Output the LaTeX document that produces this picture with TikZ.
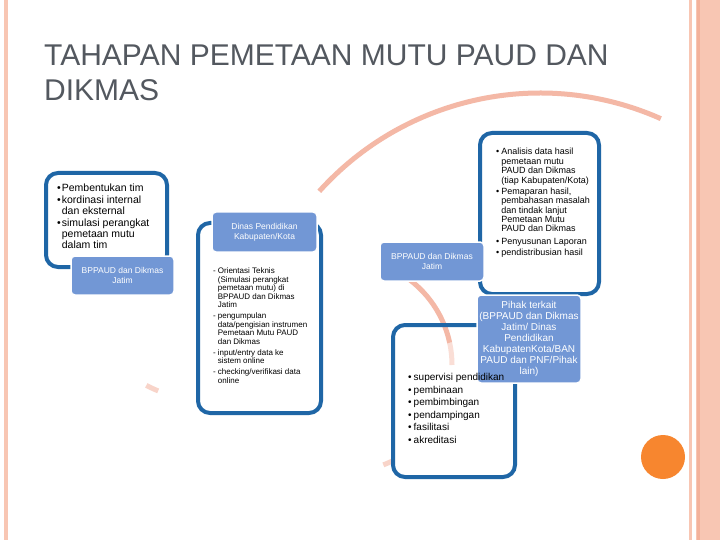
\documentclass[tikz,border=0pt]{standalone}
\usepackage{fontspec}
\setmainfont{Liberation Sans}
\usetikzlibrary{positioning}
\definecolor{tblue}{HTML}{1F66A6}
\definecolor{tlabel}{HTML}{7297D5}
\definecolor{tpink}{HTML}{F8C6B3}
\definecolor{tpinkdark}{HTML}{F3B29B}
\definecolor{tarc}{HTML}{F4B8A6}
\definecolor{torange}{HTML}{F7862F}
\definecolor{ttitle}{HTML}{53585F}
\tikzset{
  obox/.style={draw=tblue, line width=4pt, rounded corners=12pt, inner sep=0pt},
  lbox/.style={draw=white, line width=1.5pt, fill=tlabel, rounded corners=4pt,
               text=white, align=center, inner sep=0pt},
  btext/.style={anchor=base west, inner sep=0pt},
  parc/.style={draw=tarc, line width=5pt},
}

\begin{document}
\begin{tikzpicture}[x=1pt, y=-1pt]
  \useasboundingbox (0,0) rectangle (720,540);
  \fill[white] (0,0) rectangle (720,540);
  % side strips
  \fill[tpink] (4,0) rectangle (8,540);
  \fill[tpink] (688.5,0) rectangle (691.5,540);
  \fill[tpink] (696,0) rectangle (720,540);
  \fill[tpinkdark] (697,0) rectangle (700,540);
  \fill[torange] (663,457) circle (22);
  % arcs in the back
  \draw[parc] ([shift={(-138:297)}]540,390) arc[start angle=-138, end angle=-66, radius=297];
  \draw[parc] ([shift={(-62:107)}]345,365) arc[start angle=-62, end angle=-12, radius=107];
  \draw[parc, opacity=.45] ([shift={(-12:107)}]345,365) arc[start angle=-12, end angle=0, radius=107];
  \draw[parc, opacity=.6] ([shift={(63:107)}]345,365) arc[start angle=63, end angle=69, radius=107];
  \draw[parc, opacity=.6] ([shift={(112:125)}]205,275) arc[start angle=112, end angle=118, radius=125];

  \node[btext, text=ttitle, font=\fontsize{30}{35}\selectfont] (title) at (44,66)
    {\begin{tabular}[t]{@{}l@{}}TAHAPAN PEMETAAN MUTU PAUD DAN\\DIKMAS\end{tabular}};

  \node[obox, minimum width=121pt, minimum height=94pt] (o1) at (106.5,220) {};
  \node[obox, minimum width=123pt, minimum height=190pt] (o2) at (259.5,318) {};
  \node[obox, minimum width=119pt, minimum height=161pt] (o3) at (539.5,213.5) {};
  \node[obox, minimum width=122pt, minimum height=152pt] (o4) at (454,401) {};

  \node[lbox, minimum width=103pt, minimum height=39pt, font=\fontsize{8.5}{10}\selectfont] (l1) at (122.5,275.5)
    {BPPAUD dan Dikmas\\Jatim};
  \node[lbox, minimum width=105pt, minimum height=40pt, font=\fontsize{8.5}{10}\selectfont] (l2) at (264.5,232)
    {Dinas Pendidikan\\Kabupaten/Kota};
  \node[lbox, minimum width=104pt, minimum height=39pt, font=\fontsize{8.5}{10}\selectfont] (l3) at (432,261.5)
    {BPPAUD dan Dikmas\\Jatim};
  \node[lbox, minimum width=104pt, minimum height=88pt, font=\fontsize{10}{11}\selectfont] (l4) at (529,339)
    {Pihak terkait\\(BPPAUD dan Dikmas\\Jatim/ Dinas\\Pendidikan\\KabupatenKota/BAN\\PAUD dan PNF/Pihak\\lain)};

  \node[btext, font=\fontsize{10.5}{11}\selectfont] (t1) at (57,191.5)
    {\begin{tabular}[t]{@{}l@{\hspace{1pt}}l@{}}
      •&Pembentukan tim\\[1.5pt]
      •&kordinasi internal\\
      &dan eksternal\\[1pt]
      •&simulasi perangkat\\
      &pemetaan mutu\\
      &dalam tim
    \end{tabular}};
  \node[btext, font=\fontsize{8}{8.6}\selectfont] (t2) at (213,273.5)
    {\begin{tabular}[t]{@{}l@{\hspace{2pt}}l@{}}
      -&Orientasi Teknis\\
      &(Simulasi perangkat\\
      &pemetaan mutu) di\\
      &BPPAUD dan Dikmas\\
      &Jatim\\[2.2pt]
      -&pengumpulan\\
      &data/pengisian instrumen\\
      &Pemetaan Mutu PAUD\\
      &dan Dikmas\\[2.2pt]
      -&input/entry data ke\\
      &sistem online\\[2pt]
      -&checking/verifikasi data\\
      &online
    \end{tabular}};
  \node[btext, font=\fontsize{9}{9.4}\selectfont] (t3) at (496,155)
    {\begin{tabular}[t]{@{}l@{\hspace{2pt}}l@{}}
      •&Analisis data hasil\\
      &pemetaan mutu\\
      &PAUD dan Dikmas\\
      &(tiap Kabupaten/Kota)\\[1.8pt]
      •&Pemaparan hasil,\\
      &pembahasan masalah\\
      &dan tindak lanjut\\
      &Pemetaan Mutu\\
      &PAUD dan Dikmas\\[3pt]
      •&Penyusunan Laporan\\[1.8pt]
      •&pendistribusian hasil
    \end{tabular}};
  \node[btext, font=\fontsize{10}{12.6}\selectfont] (t4) at (408,380.5)
    {\begin{tabular}[t]{@{}l@{\hspace{2pt}}l@{}}
      •&supervisi pendidikan\\
      •&pembinaan\\
      •&pembimbingan\\
      •&pendampingan\\
      •&fasilitasi\\
      •&akreditasi
    \end{tabular}};
\end{tikzpicture}
\end{document}
